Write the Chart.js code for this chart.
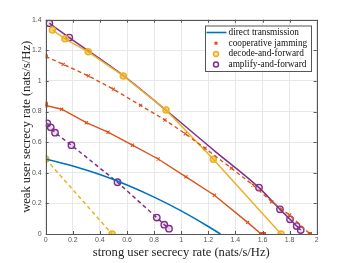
<!DOCTYPE html>
<html><head><meta charset="utf-8">
<script src="https://cdn.jsdelivr.net/npm/chart.js@4"></script>
<style>html,body{margin:0;padding:0;background:#fff}#wrap{width:350px;height:263px}</style>
</head><body><div id="wrap"><canvas id="c" width="350" height="263"></canvas></div>
<script>
// ---- data ----
const xTicks = [0,0.2,0.4,0.6,0.8,1,1.2,1.4,1.6,1.8,2];
const yTicks = [0,0.2,0.4,0.6,0.8,1,1.2,1.4];
const legendLabels = ['direct transmission','cooperative jamming','decode-and-forward','amplify-and-forward'];

const dtX = [0,0.2,0.4,0.6,0.8,1.0,1.2,1.29];
const dtY = [0.49,0.444,0.388,0.32,0.241,0.151,0.049,0];

const cjSolidX = [0,0,0.118,0.30,0.46,0.64,0.83,1.035,1.245,1.49,1.59,1.61];
const cjSolidY = [0.85,0.84,0.815,0.727,0.665,0.58,0.49,0.373,0.253,0.076,0,0];

const cjDashX = [0,0.13,0.315,0.50,0.70,0.88,1.03,1.176,1.37,1.53,1.668,1.80,1.95];
const cjDashY = [1.16,1.108,1.033,0.946,0.84,0.745,0.655,0.56,0.43,0.32,0.211,0.124,0];

const dfSolidX = [0.049,0.142,0.314,0.573,0.888,1.237,1.737];
const dfSolidY = [1.333,1.275,1.19,1.033,0.81,0.488,0];

const dfDashX = [0,0.49];
const dfDashY = [0.49,0];

const afSolidX = [0.027,0.174,0.58,0.9,1.25,1.574,1.729,1.803,1.852,1.882];
const afSolidY = [1.377,1.283,1.03,0.80,0.54,0.303,0.161,0.096,0.052,0.026];
const afSolidMarked = new Set([0,1,5,6,7,8,9]);

const afDashX = [0.012,0.037,0.069,0.19,0.53,0.82,0.875,0.91];
const afDashY = [0.723,0.697,0.662,0.58,0.338,0.107,0.061,0.035];

// ---- styles ----
const BLUE='#0072BD', ORANGE='#D95319', YELLOW='#EDB120', PURPLE='#7E2F8E';
const pts = (xs,ys)=>xs.map((x,i)=>({x:x,y:ys[i]}));
const orangeStyle = ctx => (ctx.raw && (ctx.raw.x===0 || ctx.raw.y===0)) ? 'rect' : 'crossRot';

const datasets = [
  {data:pts(dtX,dtY), borderColor:BLUE, borderWidth:1.6, pointRadius:0, cubicInterpolationMode:'monotone'},
  {data:pts(cjSolidX,cjSolidY), borderColor:ORANGE, backgroundColor:ORANGE, borderWidth:1.4,
   pointStyle:orangeStyle, pointRadius:2.2, pointBorderWidth:1.1},
  {data:pts(cjDashX,cjDashY), borderColor:ORANGE, backgroundColor:ORANGE, borderWidth:1.4, borderDash:[4,3],
   pointStyle:orangeStyle, pointRadius:2.2, pointBorderWidth:1.1},
  {data:pts(dfSolidX,dfSolidY), borderColor:YELLOW, backgroundColor:'rgba(237,177,32,0.55)', borderWidth:1.5,
   pointStyle:'circle', pointRadius:3, pointBorderWidth:1.5},
  {data:pts(dfDashX,dfDashY), borderColor:YELLOW, backgroundColor:'rgba(237,177,32,0.55)', borderWidth:1.5, borderDash:[4,3],
   pointStyle:'circle', pointRadius:3, pointBorderWidth:1.5},
  {data:pts(afSolidX,afSolidY), borderColor:PURPLE, backgroundColor:'rgba(126,47,142,0.15)', borderWidth:1.5,
   pointStyle:'circle', pointRadius:ctx=>afSolidMarked.has(ctx.dataIndex)?3.2:0, pointBorderWidth:1.4, cubicInterpolationMode:'monotone'},
  {data:pts(afDashX,afDashY), borderColor:PURPLE, backgroundColor:'rgba(126,47,142,0.15)', borderWidth:1.5, borderDash:[4,3],
   pointStyle:'circle', pointRadius:3.2, pointBorderWidth:1.4},
];
datasets.forEach(d=>{d.type='line'; d.showLine=true; d.fill=false;});

const boxPlugin = {
  id:'box',
  afterDraw(chart){
    const {ctx, chartArea:a} = chart;
    ctx.save();
    ctx.strokeStyle='#555'; ctx.lineWidth=1;
    ctx.strokeRect(Math.round(a.left)+0.5, Math.round(a.top)+0.5, Math.round(a.right-a.left), Math.round(a.bottom-a.top));
    const xs=chart.scales.x, ys=chart.scales.y;
    ctx.beginPath();
    xTicks.forEach(v=>{const p=Math.round(xs.getPixelForValue(v))+0.5; ctx.moveTo(p,a.bottom); ctx.lineTo(p,a.bottom-3); ctx.moveTo(p,a.top); ctx.lineTo(p,a.top+3);});
    yTicks.forEach(v=>{const p=Math.round(ys.getPixelForValue(v))+0.5; ctx.moveTo(a.left,p); ctx.lineTo(a.left+3,p); ctx.moveTo(a.right,p); ctx.lineTo(a.right-3,p);});
    ctx.stroke();
    // legend
    const L=205, T=25.5, W=106, H=45.5;
    ctx.fillStyle='#fff'; ctx.fillRect(L,T,W,H);
    ctx.strokeStyle='#555'; ctx.strokeRect(L+0.5,T+0.5,W,H);
    const rows=[32.5,43.2,53.9,64.6];
    ctx.font='9.3px "Liberation Serif"'; ctx.textBaseline='middle'; ctx.textAlign='left';
    legendLabels.forEach((t,i)=>{ctx.fillStyle='#111'; ctx.fillText(t,228.5,rows[i]);});
    ctx.strokeStyle=BLUE; ctx.lineWidth=1.6; ctx.beginPath(); ctx.moveTo(206.5,rows[0]); ctx.lineTo(226.5,rows[0]); ctx.stroke();
    ctx.fillStyle=ORANGE; ctx.fillRect(214.5,rows[1]-1.5,3,3);
    ctx.lineWidth=1.5;
    ctx.strokeStyle=YELLOW; ctx.fillStyle='rgba(237,177,32,0.3)'; ctx.beginPath(); ctx.arc(216,rows[2],2.5,0,Math.PI*2); ctx.fill(); ctx.stroke();
    ctx.strokeStyle=PURPLE; ctx.beginPath(); ctx.arc(216,rows[3],2.5,0,Math.PI*2); ctx.stroke();
    ctx.restore();
  }
};

new Chart(document.getElementById('c'), {
  type:'line',
  data:{datasets},
  options:{
    responsive:false, animation:false, devicePixelRatio:1,
    layout:{padding:{left:19.5,top:19.7,right:33.3,bottom:3}},
    plugins:{legend:{display:false}, tooltip:{enabled:false}},
    scales:{
      x:{type:'linear', min:0, max:2,
        afterBuildTicks:s=>{s.ticks=xTicks.map(v=>({value:v}));},
        afterFit:s=>{s.height=26;},
        ticks:{font:{size:7,family:'"Liberation Sans"'}, color:'#555', padding:2, maxRotation:0,
               callback:v=>String(v)},
        grid:{color:'#e8e8e8', drawTicks:false},
        border:{display:false},
        title:{display:true, text:'strong user secrecy rate (nats/s/Hz)', font:{size:12.6,family:'"Liberation Serif"'}, color:'#222', padding:0}
      },
      y:{type:'linear', min:0, max:1.4,
        afterBuildTicks:s=>{s.ticks=yTicks.map(v=>({value:v}));},
        afterFit:s=>{s.width=26.2;},
        ticks:{font:{size:7,family:'"Liberation Sans"'}, color:'#555', padding:4,
               callback:v=>String(v)},
        grid:{color:'#e8e8e8', drawTicks:false},
        border:{display:false},
        title:{display:true, text:'weak user secrecy rate (nats/s/Hz)', font:{size:12.6,family:'"Liberation Serif"'}, color:'#222', padding:0}
      }
    }
  },
  plugins:[boxPlugin]
});
</script></body></html>
